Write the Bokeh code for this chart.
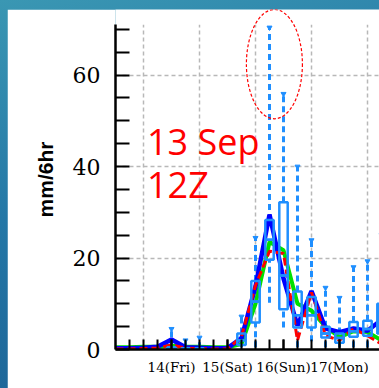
from bokeh.plotting import figure
from bokeh.layouts import column
from bokeh.models import FixedTicker, Label, Range1d
from bokeh.embed import file_html
from bokeh.resources import INLINE

# ---- data (hours after 14 Sep 00Z) ----
hours = [-12, -6, 0, 6, 12, 18, 24, 30, 36, 42, 48, 54, 60, 66, 72, 78, 84, 90, 96, 102]
blue_line = [0.3, 0.3, 0.4, 0.6, 2.2, 0.5, 0.4, 0.3, 0.3, 2.5, 13.8, 29.5, 15.5, 5.2, 12.8, 4.6, 3.8, 4.6, 4.1, 6.5]
red_line = [0.1, 0.1, 0.2, 0.3, 1.0, 0.3, 0.2, 0.1, 0.1, 2.8, 14.0, 21.5, 21.0, 2.0, 12.5, 3.0, 2.0, 4.6, 3.0, 1.2]
green_line = [0.5, 0.5, 0.6, 0.6, 0.8, 0.6, 0.6, 0.5, 0.5, 1.2, 10.0, 23.5, 21.7, 10.0, 8.5, 5.0, 2.7, 4.0, 3.8, 2.0]

box_hours = [12, 18, 24, 42, 48, 54, 60, 66, 72, 78, 84, 90, 96, 102]
box_low = [0.0, 0.0, 0.0, 0.5, 0.5, 10.2, 4.8, 0.5, 1.8, 0.5, 0.5, 0.5, 0.5, 0.5]
box_q1 = [0.0, 0.0, 0.0, 1.0, 5.9, 19.6, 8.8, 4.8, 4.8, 2.6, 1.5, 2.8, 3.0, 3.5]
box_med = [0.2, 0.1, 0.1, 2.0, 10.5, 24.0, 16.2, 7.5, 7.5, 3.5, 2.5, 4.0, 4.5, 6.0]
box_q3 = [0.5, 0.3, 0.3, 3.5, 15.0, 28.3, 32.2, 12.7, 11.5, 5.0, 3.5, 6.0, 6.3, 10.0]
box_high = [4.5, 2.0, 2.6, 7.2, 24.4, 70.4, 55.9, 40.0, 23.9, 13.5, 11.3, 18.0, 19.3, 25.0]

label_hours = [12, 36, 60, 84]
label_texts = ["14(Fri)", "15(Sat)", "16(Sun)", "17(Mon)"]
extra_label_hour = 108
extra_label_text = "18(Tue)"
minor_hours = list(range(-6, 102, 6))
day_hours = [0, 24, 48, 72, 96]
y_major = [0, 20, 40, 60]
y_minor = [5, 10, 15, 25, 30, 35, 45, 50, 55, 65, 70]
y_grid = [20, 40, 60]
y_axis_top = 71

# ---- figure ----
p = figure(width=372, height=379, x_range=Range1d(-12, 101.14), y_range=Range1d(0, 74.35),
           output_backend="svg", toolbar_location=None,
           min_border_left=108, min_border_right=0, min_border_top=0, min_border_bottom=39)
p.title.visible = False
p.outline_line_color = None
p.background_fill_color = "white"
p.border_fill_color = "white"

# grids
p.xgrid.visible = False
p.ygrid.ticker = FixedTicker(ticks=y_grid)
p.ygrid.grid_line_color = "#b8b8b8"
p.ygrid.grid_line_dash = "4 3"
p.ygrid.grid_line_width = 1.5
p.segment(x0=day_hours, y0=[0] * len(day_hours), x1=day_hours, y1=[y_axis_top] * len(day_hours),
          line_color="#b8b8b8", line_dash="4 3", line_width=1.5)

# ensemble boxes: whiskers
wc = "#1f8fff"
p.segment(x0=box_hours, y0=box_q3, x1=box_hours, y1=box_high, line_color=wc, line_width=3, line_dash="6 4")
p.segment(x0=box_hours, y0=box_low, x1=box_hours, y1=box_q1, line_color=wc, line_width=3, line_dash="6 4")
p.scatter(x=box_hours, y=box_high, marker="inverted_triangle", size=5, color=wc)

# lines
p.line(hours, green_line, line_color="#00e000", line_width=4)
p.line(hours, blue_line, line_color="#0000ff", line_width=4.5)
p.line(hours, red_line, line_color="#ff0000", line_width=3, line_dash="8 4")

# boxes
p.vbar(x=box_hours, width=3.6, bottom=box_q1, top=box_med, fill_alpha=0, line_color=wc, line_width=2.5)
p.vbar(x=box_hours, width=3.6, bottom=box_med, top=box_q3, fill_alpha=0, line_color=wc, line_width=2.5)

# annotation ellipse
p.ellipse(x=[56.1], y=[62.4], width=24, height=23.9, fill_alpha=0, line_color="#ff0000",
          line_width=1.2, line_dash="3 2")

# red text
p.add_layout(Label(x=1.5, y=45.4, text="13 Sep", text_color="#ff0000", text_font="Open Sans",
                   text_font_size="36px", text_baseline="alphabetic"))
p.add_layout(Label(x=1.5, y=36.1, text="12Z", text_color="#ff0000", text_font="Open Sans",
                   text_font_size="36px", text_baseline="alphabetic"))

# axes
xa = p.xaxis[0]
xa.ticker = FixedTicker(ticks=label_hours, minor_ticks=minor_hours)
xa.major_label_overrides = {h: t for h, t in zip(label_hours, label_texts)}
xa.axis_line_width = 2.5
xa.axis_line_color = "black"
xa.major_tick_in = 10
xa.major_tick_out = 0
xa.minor_tick_in = 10
xa.minor_tick_out = 0
xa.major_tick_line_width = 2
xa.minor_tick_line_width = 2
xa.major_label_text_font = "DejaVu Serif"
xa.major_label_text_font_size = "13.5px"
xa.major_label_text_color = "black"
xa.major_label_standoff = 9

p.add_layout(Label(x=extra_label_hour, y=-9 / 4.6, text=extra_label_text, text_font="DejaVu Serif",
                   text_font_size="13.5px", text_align="center", text_baseline="top", text_color="black"))

ya = p.yaxis[0]
ya.ticker = FixedTicker(ticks=y_major, minor_ticks=y_minor)
ya.bounds = (0, y_axis_top)
ya.axis_line_width = 2.5
ya.axis_line_color = "black"
ya.major_tick_in = 14
ya.major_tick_out = 0
ya.minor_tick_in = 14
ya.minor_tick_out = 0
ya.major_tick_line_width = 2
ya.minor_tick_line_width = 2
ya.major_label_text_font = "DejaVu Serif"
ya.major_label_text_font_size = "22px"
ya.major_label_text_color = "black"
ya.major_label_standoff = 15
ya.axis_label = "mm/6hr"
ya.axis_label_text_font = "Liberation Sans"
ya.axis_label_text_font_style = "bold"
ya.axis_label_text_font_size = "21px"
ya.axis_label_text_color = "black"
ya.axis_label_standoff = 13

page = column(p, styles={"background": "linear-gradient(165deg, #3a97b3 0%, #2477a6 45%, #1b5e92 100%)",
                         "padding-left": "7px", "padding-top": "9px"})

open("out.html", "w").write(file_html(page, INLINE))
